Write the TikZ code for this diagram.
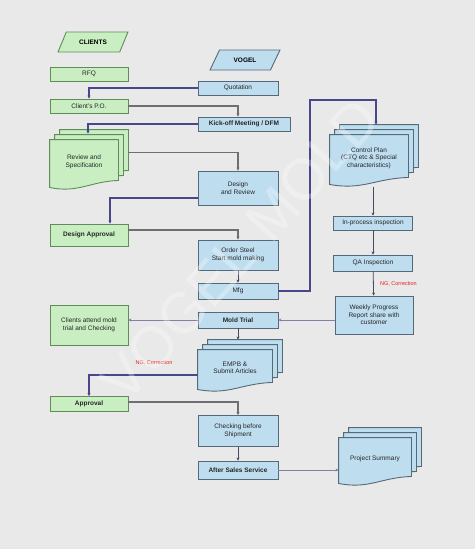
\documentclass[tikz,border=0pt]{standalone}
\usepackage{fontspec}
\setmainfont{Liberation Sans}
\usetikzlibrary{arrows.meta,positioning,calc,shapes.geometric,backgrounds}
\definecolor{pageGray}{RGB}{233,233,233}
\definecolor{cliFill}{RGB}{200,238,194}
\definecolor{cliLine}{RGB}{96,140,90}
\definecolor{vogFill}{RGB}{190,222,240}
\definecolor{vogLine}{RGB}{85,105,120}
\definecolor{flowBlue}{RGB}{72,70,140}
\definecolor{flowGray}{RGB}{110,110,115}
\definecolor{flowThin}{RGB}{130,128,165}
\definecolor{flowDark}{RGB}{70,72,100}
\definecolor{ngRed}{RGB}{230,30,30}
\tikzset{
  boxbase/.style={rectangle, line width=0.9pt, align=center, inner sep=1pt,
    font=\fontsize{6.5}{7.5}\selectfont, text=black!85},
  cbox/.style={boxbase, draw=cliLine, fill=cliFill},
  vbox/.style={boxbase, draw=vogLine, fill=vogFill},
  pagebox/.style={boxbase, draw=none, fill=none},
  party/.style={trapezium, trapezium left angle=55, trapezium right angle=125,
    trapezium stretches=true, line width=0.9pt, inner sep=1pt,
    font=\fontsize{6.5}{7.5}\selectfont\bfseries},
  tipln/.style={-{Stealth[length=3pt,width=3pt]}},
  blueln/.style={tipln, line width=1.6pt, flowBlue},
  grayln/.style={tipln, line width=1.3pt, flowGray},
  thinln/.style={tipln, line width=0.8pt, flowThin},
  darkln/.style={tipln, line width=0.8pt, flowDark},
  nglabel/.style={font=\fontsize{5.5}{6}\selectfont, text=ngRed},
}
% stack of three documents behind the node #1
\newcommand{\docstack}[3]{%
  \begin{scope}[on background layer]
    \foreach \k in {2,1,0} {
      \pgfmathsetmacro{\d}{\k*5}
      \filldraw[fill=#2, draw=#3, line width=0.9pt]
        ($(#1.north west)+(\d pt,\d pt)$) -- ($(#1.south west)+(\d pt,\d pt-3pt)$)
        .. controls ($(#1.south)+(\d pt-6pt,\d pt-9pt)$) and ($(#1.south)+(\d pt+6pt,\d pt+3pt)$)
        .. ($(#1.south east)+(\d pt,\d pt+4pt)$) -- ($(#1.north east)+(\d pt,\d pt)$) -- cycle;
    }
  \end{scope}
}

\begin{document}
\begin{tikzpicture}[x=1pt,y=-1pt]
    \useasboundingbox (0,0) rectangle (475,549);
    \begin{scope}[on background layer]
      \fill[pageGray] (0,0) rectangle (475,549);
    \end{scope}
    % --- parties ---
    \node[party, draw=cliLine, fill=cliFill, minimum width=70, minimum height=20] (clients) at (93,42) {CLIENTS};
    \node[party, draw=vogLine, fill=vogFill, minimum width=70, minimum height=20] (vogel) at (245,60) {VOGEL};
    % --- clients (left column) ---
    \node[cbox, minimum width=78, minimum height=14] (rfq) at (89,74) {RFQ};
    \node[cbox, minimum width=78, minimum height=14] (po) at (89,106) {Client's P.O.};
    \node[pagebox, minimum width=68, minimum height=44] (rev) at (84,162) {Review and\\Specification};
    \docstack{rev}{cliFill}{cliLine}
    \node[cbox, minimum width=78, minimum height=22, font=\fontsize{6.5}{7.5}\selectfont\bfseries] (dap) at (89,235) {Design Approval};
    \node[cbox, minimum width=78, minimum height=40] (att) at (89,325) {Clients attend mold\\trial and Checking};
    \node[cbox, minimum width=78, minimum height=15, font=\fontsize{6.5}{7.5}\selectfont\bfseries] (app) at (89,404) {Approval};
    % --- vogel (middle column) ---
    \node[vbox, minimum width=80, minimum height=14] (quot) at (238,88) {Quotation};
    \node[vbox, minimum width=92, minimum height=14, font=\fontsize{6.5}{7.5}\selectfont\bfseries] (kick) at (244,124) {Kick-off Meeting / DFM};
    \node[vbox, minimum width=80, minimum height=34] (des) at (238,188) {Design\\and Review};
    \node[vbox, minimum width=80, minimum height=30] (ord) at (238,255) {Order Steel\\Start mold making};
    \node[vbox, minimum width=80, minimum height=16] (mfg) at (238,291) {Mfg};
    \node[vbox, minimum width=80, minimum height=16, font=\fontsize{6.5}{7.5}\selectfont\bfseries] (mt) at (238,320) {Mold Trial};
    \node[pagebox, minimum width=74, minimum height=36] (emp) at (235,368) {EMPB \&\\Submit Articles};
    \docstack{emp}{vogFill}{vogLine}
    \node[vbox, minimum width=80, minimum height=31] (chk) at (238,431) {Checking before\\Shipment};
    \node[vbox, minimum width=80, minimum height=18, font=\fontsize{6.5}{7.5}\selectfont\bfseries] (aft) at (238,470) {After Sales Service};
    % --- quality (right column) ---
    \node[pagebox, minimum width=78, minimum height=46] (cp) at (369,158) {Control Plan\\(CTQ etc \& Special\\characteristics)};
    \docstack{cp}{vogFill}{vogLine}
    \node[vbox, minimum width=79, minimum height=14] (inp) at (373,223) {In-process inspection};
    \node[vbox, minimum width=79, minimum height=16] (qa) at (373,263) {QA Inspection};
    \node[vbox, minimum width=78, minimum height=38] (wk) at (374,315) {Weekly Progress\\Report share with\\customer};
    \node[pagebox, minimum width=72, minimum height=42] (ps) at (375,459) {Project Summary};
    \docstack{ps}{vogFill}{vogLine}
    % --- connectors ---
    \coordinate (turn) at (310,100);
    \draw[blueln] (quot.west) -| (po.north);
    \draw[grayln] (po.east) -| ([xshift=-6pt]kick.north);
    \draw[blueln] (kick.west) -| ([xshift=4pt,yshift=6pt]rev.north);
    \draw[grayln] ([shift={(10pt,-13pt)}]rev.north east) -| (des.north);
    \draw[blueln] ([yshift=-10pt]des.west) -| ([xshift=21pt]dap.north);
    \draw[grayln] ([yshift=5pt]dap.east) -| (ord.north);
    \draw[darkln] (ord) -- (mfg);
    \draw[blueln] (mfg.east) -| (turn) -| ([shift={(7pt,10pt)}]cp.north);
    \draw[darkln] ([shift={(4pt,-6pt)}]cp.south) -- (inp.north);
    \draw[darkln] (inp) -- (qa);
    \draw[darkln] (qa) -- node[nglabel, right=3pt] (ng1) {NG, Correction} (wk);
    \draw[thinln] (mt.east -| wk.west) -- (mt.east);
    \draw[thinln] (mt.west) -- (mt.west -| att.east);
    \draw[darkln] (mt.south) -- ([shift={(3pt,10pt)}]emp.north);
    \draw[blueln] ([yshift=-7pt]emp.west) -| (app.north);
    \node[nglabel] (ng2) at (154,363) {NG, Correction};
    \draw[grayln] ([yshift=2pt]app.east) -| (chk.north);
    \draw[darkln] (chk) -- (aft);
    \draw[thinln] (aft.east) -- (aft.east -| ps.west);
    % --- watermark ---
    \node[rotate=48, font=\fontsize{58}{58}\selectfont, text=white, text opacity=0.3] (mark) at (240,250) {VOGEL MOLD};
\end{tikzpicture}
\end{document}
